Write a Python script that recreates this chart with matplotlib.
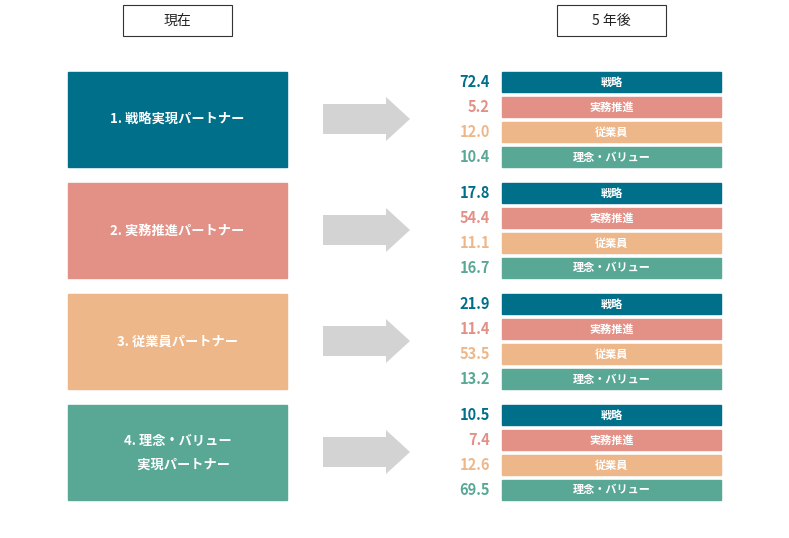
import matplotlib
matplotlib.use("Agg")
import matplotlib.pyplot as plt
from matplotlib.patches import Rectangle, Polygon

plt.rcParams["font.family"] = "Noto Sans CJK JP"

current_types = ["1. 戦略実現パートナー", "2. 実務推進パートナー", "3. 従業員パートナー", "4. 理念・バリュー\n　実現パートナー"]
future_types = ["戦略", "実務推進", "従業員", "理念・バリュー"]
values = [
    [72.4, 5.2, 12.0, 10.4],
    [17.8, 54.4, 11.1, 16.7],
    [21.9, 11.4, 53.5, 13.2],
    [10.5, 7.4, 12.6, 69.5],
]
colors = ["#006F8A", "#E39087", "#EEB78A", "#58A895"]

fig = plt.figure(figsize=(7.89, 5.38), dpi=100)
ax = fig.add_axes([0, 0, 1, 1])
ax.set_xlim(0, 789)
ax.set_ylim(538, 0)
ax.axis("off")

for x0, t in [(123, "現在"), (557, "5 年後")]:
    ax.add_patch(Rectangle((x0, 5), 109, 31, fill=False, ec="#333333", lw=0.8))
    ax.text(x0 + 54.5, 20.5, t, ha="center", va="center", fontsize=10, color="#222222")

for i, label in enumerate(current_types):
    top = 72 + i * 111
    ax.add_patch(Rectangle((68, top), 219, 95, color=colors[i]))
    ax.text(177.5, top + 47.5, label, ha="center", va="center", fontsize=9.5,
            color="white", fontweight="bold", linespacing=1.9)
    cy = top + 47
    ax.add_patch(Polygon([(323, cy - 15), (386, cy - 15), (386, cy - 22), (410, cy),
                          (386, cy + 22), (386, cy + 15), (323, cy + 15)], color="#D3D3D3", lw=0))
    for j, name in enumerate(future_types):
        ry = top + j * 25
        ax.add_patch(Rectangle((502, ry), 219, 20, color=colors[j]))
        ax.text(611.5, ry + 10, name, ha="center", va="center", fontsize=8,
                color="white", fontweight="bold")
        ax.text(490, ry + 10, f"{values[i][j]:.1f}", ha="right", va="center",
                fontsize=10.5, color=colors[j], fontweight="bold")

fig.savefig("out.png", dpi=100)
